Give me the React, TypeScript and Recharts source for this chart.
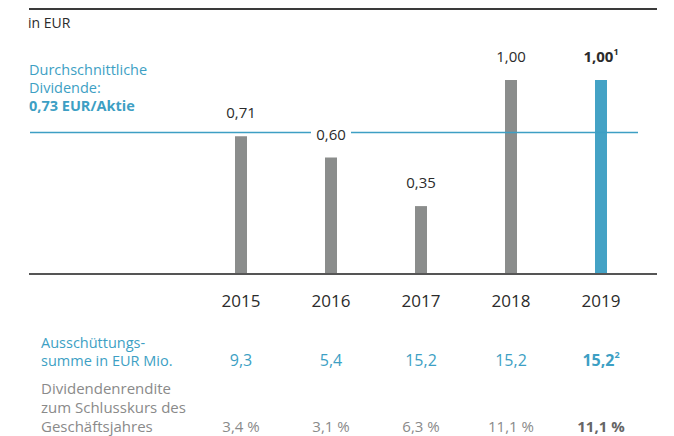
import React from "react";
import { Bar, Cell, ComposedChart, LabelList, Line, ReferenceLine, XAxis, YAxis } from "recharts";

const years = ["2015", "2016", "2017", "2018", "2019"];
const dividends = [0.71, 0.6, 0.35, 1.0, 1.0];
const dividendLabels = ["0,71", "0,60", "0,35", "1,00", "1,00"];
const payoutTotals = ["9,3", "5,4", "15,2", "15,2", "15,2"];
const yields = ["3,4 %", "3,1 %", "6,3 %", "11,1 %", "11,1 %"];
const averageDividend = 0.73;

const BLUE = "#3d9fc4";
const BAR_BLUE = "#44a2c5";
const GRAY_BAR = "#8b8d8c";
const DARK = "#2b2b2b";
const GRAY_TEXT = "#8a8a8a";
const FONT = "'Open Sans', sans-serif";

const data = years.map((year, i) => ({ year, value: dividends[i] }));

function YearTick(props: any) {
  const { x, y, payload } = props;
  const i = payload.index;
  const last = i === years.length - 1;
  return (
    <g fontFamily={FONT}>
      <text x={x} y={y + 26} textAnchor="middle" dominantBaseline="central" fontSize={17} fill={DARK}>
        {payload.value}
      </text>
      <text
        x={x}
        y={y + 86}
        textAnchor="middle"
        dominantBaseline="central"
        fontSize={16}
        fill={BLUE}
        fontWeight={last ? 700 : 400}
      >
        {payoutTotals[i]}
        {last && (
          <tspan fontSize={9} dy={-6}>
            2
          </tspan>
        )}
      </text>
      <text
        x={x}
        y={y + 152}
        textAnchor="middle"
        dominantBaseline="central"
        fontSize={15}
        fill={last ? "#666" : GRAY_TEXT}
        fontWeight={last ? 700 : 400}
      >
        {yields[i]}
      </text>
    </g>
  );
}

function ValueLabel(props: any) {
  const { x, y, index } = props;
  const last = index === years.length - 1;
  const ty = y - 24;
  return (
    <g fontFamily={FONT}>
      {index === 1 && <rect x={x - 20} y={ty - 9} width={40} height={18} fill="#fff" />}
      <text
        x={x}
        y={ty}
        textAnchor="middle"
        dominantBaseline="central"
        fontSize={15}
        fill={DARK}
        fontWeight={last ? 700 : 400}
      >
        {dividendLabels[index]}
        {last && (
          <tspan fontSize={9} dy={-5}>
            1
          </tspan>
        )}
      </text>
    </g>
  );
}

export default function App() {
  return (
    <div style={{ position: "absolute", left: 0, top: 0, width: 674, height: 436, background: "#fff", fontFamily: FONT }}>
      <div style={{ position: "absolute", left: 29, top: 8, width: 628, height: 2, background: "#3a3a3a" }} />
      <div style={{ position: "absolute", left: 28, top: 14, fontSize: 14, lineHeight: "18px", color: DARK }}>in EUR</div>
      <div style={{ position: "absolute", left: 29, top: 61, fontSize: 14.5, lineHeight: "18px", color: BLUE }}>
        Durchschnittliche
        <br />
        Dividende:
        <br />
        <b>0,73 EUR/Aktie</b>
      </div>
      <div style={{ position: "absolute", left: 41, top: 333.5, fontSize: 14.5, lineHeight: "18px", color: BLUE }}>
        Ausschüttungs-
        <br />
        summe in EUR Mio.
      </div>
      <div style={{ position: "absolute", left: 41, top: 378.5, fontSize: 15, lineHeight: "19px", color: GRAY_TEXT }}>
        Dividendenrendite
        <br />
        zum Schlusskurs des
        <br />
        Geschäftsjahres
      </div>
      <div style={{ position: "absolute", left: 0, top: 0 }}>
        <ComposedChart width={674} height={436} data={data} margin={{ top: 80, right: 28, bottom: 12, left: 196 }}>
          <XAxis
            dataKey="year"
            height={150}
            axisLine={false}
            tickLine={false}
            tickSize={0}
            tickMargin={0}
            interval={0}
            tick={<YearTick />}
          />
          <YAxis hide domain={[0, 1]} />
          <Bar dataKey="value" barSize={12} isAnimationActive={false}>
            {data.map((d, i) => (
              <Cell key={d.year} fill={i === data.length - 1 ? BAR_BLUE : GRAY_BAR} />
            ))}
          </Bar>
          <ReferenceLine
            y={0}
            shape={(p: any) => <line x1={29} x2={657} y1={p.y1} y2={p.y1} stroke="#555" strokeWidth={2} />}
          />
          <ReferenceLine
            y={averageDividend}
            shape={(p: any) => <line x1={30} x2={638} y1={p.y1} y2={p.y1} stroke={BLUE} strokeWidth={1.5} />}
          />
          <Line dataKey="value" stroke="none" dot={false} activeDot={false} isAnimationActive={false}>
            <LabelList dataKey="value" content={<ValueLabel />} />
          </Line>
        </ComposedChart>
      </div>
    </div>
  );
}
